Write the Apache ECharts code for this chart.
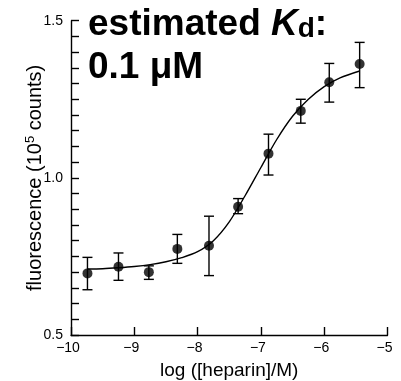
<!DOCTYPE html>
<html>
<head>
<meta charset="utf-8">
<script src="https://cdn.jsdelivr.net/npm/echarts@6/dist/echarts.min.js"></script>
<style>
html,body{margin:0;padding:0;background:#fff;}
#c{width:401px;height:381px;}
</style>
</head>
<body>
<div id="c"></div>
<script>
// Measured points (log concentration, fluorescence in 1e5 counts)
var xVals = [-9.74, -9.25, -8.77, -8.32, -7.82, -7.36, -6.88, -6.37, -5.92, -5.44];
var yVals = [0.696, 0.717, 0.700, 0.774, 0.784, 0.908, 1.077, 1.213, 1.304, 1.362];
var errLow = [0.644, 0.674, 0.677, 0.728, 0.689, 0.886, 1.009, 1.174, 1.241, 1.287];
var errHigh = [0.747, 0.761, 0.720, 0.820, 0.878, 0.934, 1.139, 1.250, 1.364, 1.431];

// Fitted curve
var fitX = [-9.74, -9.5, -9.25, -9.0, -8.75, -8.5, -8.25, -8.0, -7.75, -7.5, -7.25, -7.0, -6.75, -6.5, -6.25, -6.0, -5.75, -5.44];
var fitY = [0.710, 0.711, 0.714, 0.718, 0.724, 0.733, 0.746, 0.765, 0.800, 0.860, 0.943, 1.033, 1.122, 1.196, 1.250, 1.290, 1.318, 1.340];

// Tick labels
var xTickValues = [-10, -9, -8, -7, -6, -5];
var xTickLabels = ['\u221210', '\u22129', '\u22128', '\u22127', '\u22126', '\u22125'];
var yTickValues = [0.5, 1.0, 1.5];
var yTickLabels = ['0.5', '1.0', '1.5'];

var FONT = 'Liberation Sans, Arial, sans-serif';

var chart = echarts.init(document.getElementById('c'), null, {renderer: 'canvas'});

var pts = xVals.map(function (x, i) { return [x, yVals[i]]; });
var errs = xVals.map(function (x, i) { return [x, errLow[i], errHigh[i]]; });
var fit = fitX.map(function (x, i) { return [x, fitY[i]]; });

function findLabel(values, labels, v) {
  for (var i = 0; i < values.length; i++) {
    if (Math.abs(values[i] - v) < 1e-6) return labels[i];
  }
  return '';
}

chart.setOption({
  animation: false,
  backgroundColor: '#fff',
  grid: {left: 71, right: 13.5, top: 20.7, bottom: 46, containLabel: false, outerBoundsMode: 'none'},
  xAxis: {
    type: 'value', min: -10, max: -5, interval: 1,
    name: 'log ([heparin]/M)', nameLocation: 'middle', nameGap: 26, nameMoveOverlap: false,
    nameTextStyle: {fontFamily: FONT, fontSize: 19, color: '#000'},
    axisLine: {show: true, onZero: false, lineStyle: {color: '#000', width: 1.4}},
    axisTick: {show: true, inside: true, length: 8, lineStyle: {color: '#000', width: 1.4}},
    axisLabel: {fontFamily: FONT, fontSize: 14, color: '#000', margin: 6, padding: [0, 6, 0, 0],
      formatter: function (v) { return findLabel(xTickValues, xTickLabels, v); }},
    splitLine: {show: false}
  },
  yAxis: {
    type: 'value', min: 0.5, max: 1.5, interval: 0.05,
    name: '{n|fluorescence (10}{sup|5}{n| counts)}', nameLocation: 'middle', nameGap: 25, nameMoveOverlap: false,
    nameTextStyle: {fontFamily: FONT, fontSize: 20, color: '#000',
      rich: {
        n: {fontFamily: FONT, fontSize: 20, color: '#000', lineHeight: 22},
        sup: {fontFamily: FONT, fontSize: 13, color: '#000', lineHeight: 13, verticalAlign: 'top'}
      }},
    axisLine: {show: true, onZero: false, lineStyle: {color: '#000', width: 1.4}},
    axisTick: {show: true, inside: true, length: 8, lineStyle: {color: '#000', width: 1.4}},
    axisLabel: {fontFamily: FONT, fontSize: 14, color: '#000', margin: 8, showMinLabel: true, showMaxLabel: true,
      formatter: function (v) { return findLabel(yTickValues, yTickLabels, v); }},
    splitLine: {show: false}
  },
  graphic: [{
    type: 'text', left: 88, top: 6, z: 100,
    style: {
      text: '{b|estimated }{k|K}{s|d}{b|:}\n{b|0.1 \u03bcM}',
      rich: {
        b: {fontFamily: FONT, fontSize: 37, fontWeight: 'bold', fill: '#000', lineHeight: 43, verticalAlign: 'bottom'},
        k: {fontFamily: FONT, fontSize: 37, fontWeight: 'bold', fontStyle: 'italic', fill: '#000', lineHeight: 43, verticalAlign: 'bottom'},
        s: {fontFamily: FONT, fontSize: 28, fontWeight: 'bold', fill: '#000', lineHeight: 8, verticalAlign: 'bottom'}
      }
    }
  }],
  series: [
    {
      type: 'line', data: fit, smooth: 0.3, showSymbol: false,
      lineStyle: {color: '#000', width: 1.4}, z: 2
    },
    {
      type: 'custom', data: errs, z: 3,
      renderItem: function (params, api) {
        var x = api.value(0);
        var lo = api.coord([x, api.value(1)]);
        var hi = api.coord([x, api.value(2)]);
        var w = 5;
        var st = {stroke: '#000', lineWidth: 1.4};
        return {type: 'group', children: [
          {type: 'line', shape: {x1: lo[0], y1: lo[1], x2: hi[0], y2: hi[1]}, style: st},
          {type: 'line', shape: {x1: lo[0] - w, y1: lo[1], x2: lo[0] + w, y2: lo[1]}, style: st},
          {type: 'line', shape: {x1: hi[0] - w, y1: hi[1], x2: hi[0] + w, y2: hi[1]}, style: st}
        ]};
      }
    },
    {
      type: 'scatter', data: pts, symbol: 'circle', symbolSize: 10, z: 4,
      itemStyle: {color: '#000'}
    }
  ]
});
</script>
</body>
</html>
